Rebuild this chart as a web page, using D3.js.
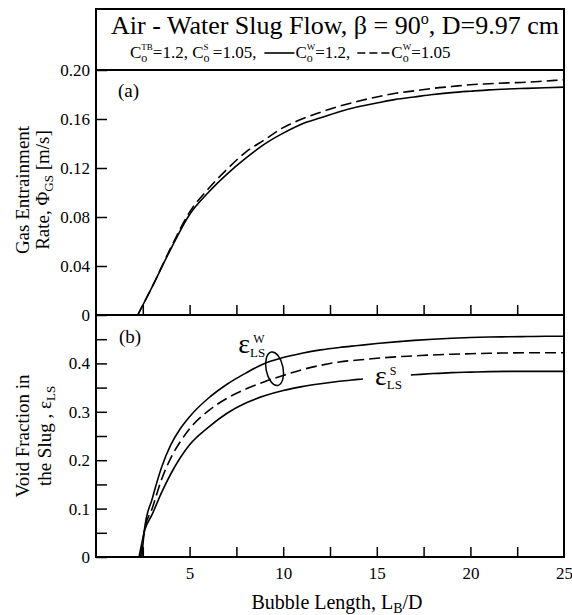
<!DOCTYPE html>
<html>
<head>
<meta charset="utf-8">
<script src="https://cdn.jsdelivr.net/npm/d3@7"></script>
<style>
  body { margin: 0; background: #fff; }
  svg { display: block; font-family: "Liberation Serif", "Times New Roman", serif; }
  .axis text { font-size: 17px; font-family: "Liberation Serif", "Times New Roman", serif; fill: #000; }
  .axis line { stroke: #000; stroke-width: 1.5px; }
</style>
</head>
<body>
<div id="chart"></div>
<script>
// (a) gas entrainment rate vs bubble length
const LB_A = [2.23, 3, 4, 5, 6, 7, 8, 9, 10, 11, 12, 13, 14, 15, 16, 17, 18, 19, 20, 21, 22, 23, 24, 25];
const phiW12  = [0, 0.023, 0.054, 0.082, 0.100, 0.115, 0.128, 0.1395, 0.1485, 0.156, 0.161, 0.166, 0.170, 0.173, 0.176, 0.178, 0.180, 0.1815, 0.1827, 0.1838, 0.1845, 0.185, 0.1855, 0.186];
const phiW105 = [0, 0.023, 0.055, 0.084, 0.103, 0.119, 0.133, 0.143, 0.153, 0.160, 0.1655, 0.1705, 0.1745, 0.178, 0.181, 0.183, 0.185, 0.1865, 0.188, 0.1888, 0.1895, 0.190, 0.191, 0.192];

// (b) void fraction in the slug vs bubble length
const LB_B = [2.6, 3, 3.5, 4, 4.5, 5, 6, 7, 8, 9, 10, 11, 12, 13, 14, 15, 16, 17, 18, 19, 20, 21, 22, 23, 24, 25];
const startB = [2.45, 2.38, 2.3]; // where each curve leaves zero: W 1.2, W 1.05, S
const epsW12  = [0.06, 0.12, 0.185, 0.232, 0.265, 0.290, 0.328, 0.357, 0.380, 0.400, 0.412, 0.421, 0.428, 0.433, 0.437, 0.441, 0.4445, 0.4475, 0.450, 0.452, 0.4535, 0.4545, 0.455, 0.4555, 0.456, 0.456];
const epsW105 = [0.058, 0.10, 0.16, 0.205, 0.238, 0.265, 0.302, 0.328, 0.347, 0.362, 0.375, 0.387, 0.396, 0.403, 0.407, 0.4105, 0.4135, 0.4155, 0.4175, 0.419, 0.420, 0.421, 0.4215, 0.422, 0.422, 0.422];
const epsS    = [0.055, 0.088, 0.133, 0.172, 0.205, 0.232, 0.268, 0.297, 0.318, 0.333, 0.344, 0.352, 0.358, 0.363, 0.367, 0.371, 0.374, 0.3765, 0.379, 0.381, 0.382, 0.383, 0.3835, 0.3836, 0.3836, 0.3836];

// ticks
const xMinor  = [2.5, 5, 7.5, 10, 12.5, 15, 17.5, 20, 22.5];
const xLabels = [5, 10, 15, 20, 25];
const phiTicks = [0, 0.04, 0.08, 0.12, 0.16, 0.20];
const epsMinor = [0.05, 0.15, 0.25, 0.35, 0.45];
const epsTicks = [0, 0.1, 0.2, 0.3, 0.4];

// annotation anchors (data coords)
const ellipseAt = [9.54, 0.389];
const labelW = [7.6, 0.422];
const labelS = [14.9, 0.355];

const width = 572, height = 615;
const svg = d3.select("#chart").append("svg")
  .attr("width", width).attr("height", height);

const x  = d3.scaleLinear().domain([0, 25]).range([96, 564]);
const yA = d3.scaleLinear().domain([0, 0.2]).range([315, 70]);
const yB = d3.scaleLinear().domain([0, 0.5]).range([557, 315]);

// ticks first, frame drawn over them
const fmtA = d => d === 0 ? "0" : d3.format(".2f")(d);
const fmtB = d => d === 0 ? "0" : d3.format(".1f")(d);

svg.append("g").attr("class", "axis")
  .attr("transform", `translate(0,${yA(0)})`)
  .call(d3.axisBottom(x).tickValues(xMinor).tickSize(-10).tickFormat(""))
  .select(".domain").remove();

svg.append("g").attr("class", "axis")
  .attr("transform", `translate(0,${yB(0)})`)
  .call(d3.axisBottom(x).tickValues(xMinor).tickSize(-10).tickFormat(""))
  .select(".domain").remove();

svg.append("g").attr("class", "axis")
  .attr("transform", `translate(0,${yB(0)})`)
  .call(d3.axisBottom(x).tickValues(xLabels).tickSize(0).tickPadding(10))
  .select(".domain").remove();

svg.append("g").attr("class", "axis")
  .attr("transform", `translate(${x(0)},0)`)
  .call(d3.axisLeft(yA).tickValues(phiTicks).tickSize(-11).tickPadding(6).tickFormat(fmtA))
  .select(".domain").remove();

svg.append("g").attr("class", "axis")
  .attr("transform", `translate(${x(0)},0)`)
  .call(d3.axisLeft(yB).tickValues(epsMinor).tickSize(-11).tickFormat(""))
  .select(".domain").remove();

svg.append("g").attr("class", "axis")
  .attr("transform", `translate(${x(0)},0)`)
  .call(d3.axisLeft(yB).tickValues(epsTicks).tickSize(-11).tickPadding(6).tickFormat(fmtB))
  .select(".domain").remove();

// frame: header box + two panels
const frame = svg.append("g").attr("fill", "none").attr("stroke", "#000").attr("stroke-width", 2);
frame.append("rect").attr("x", x(0)).attr("y", 9).attr("width", x(25) - x(0)).attr("height", yB(0) - 9);
frame.append("line").attr("x1", x(0)).attr("x2", x(25)).attr("y1", yA(0.2)).attr("y2", yA(0.2));
frame.append("line").attr("x1", x(0)).attr("x2", x(25)).attr("y1", yA(0)).attr("y2", yA(0));

// curves
const lineA = d3.line().x(d => x(d[0])).y(d => yA(d[1])).curve(d3.curveMonotoneX);
const lineB = d3.line().x(d => x(d[0])).y(d => yB(d[1])).curve(d3.curveMonotoneX);

const seriesA = [
  { vals: phiW12, dash: null },
  { vals: phiW105, dash: "11,5" }
];
seriesA.forEach(s => {
  svg.append("path")
    .datum(LB_A.map((l, i) => [l, s.vals[i]]))
    .attr("d", lineA)
    .attr("fill", "none").attr("stroke", "#000").attr("stroke-width", 1.6)
    .attr("stroke-dasharray", s.dash);
});

const seriesB = [
  { vals: epsW12, start: startB[0], dash: null },
  { vals: epsW105, start: startB[1], dash: "11,5" },
  { vals: epsS, start: startB[2], dash: null }
];
seriesB.forEach(s => {
  svg.append("path")
    .datum([[s.start, 0]].concat(LB_B.map((l, i) => [l, s.vals[i]])))
    .attr("d", lineB)
    .attr("fill", "none").attr("stroke", "#000").attr("stroke-width", 1.6)
    .attr("stroke-dasharray", s.dash);
});

// epsilon labels
function epsLabel(px, py, sup) {
  const t = svg.append("text").attr("x", px).attr("y", py).attr("font-size", 28);
  t.append("tspan").text("ε");
  t.append("tspan").attr("font-size", 13).attr("dy", 4).text("LS");
  t.append("tspan").attr("font-size", 12).attr("dx", -12).attr("dy", -14).text(sup);
  return t;
}

// white gap in the S curve behind its label
svg.append("rect")
  .attr("x", x(labelS[0]) - 12).attr("y", yB(labelS[1]) - 19)
  .attr("width", 48).attr("height", 26).attr("fill", "#fff");
epsLabel(x(labelS[0]), yB(labelS[1]), "S");
epsLabel(x(labelW[0]), yB(labelW[1]), "W");

svg.append("ellipse")
  .attr("transform", `translate(${x(ellipseAt[0])},${yB(ellipseAt[1])}) rotate(-11)`)
  .attr("rx", 8.5).attr("ry", 17)
  .attr("fill", "none").attr("stroke", "#000").attr("stroke-width", 1.5);

// panel tags
svg.append("text").attr("x", 118).attr("y", 97).attr("font-size", 19).text("(a)");
svg.append("text").attr("x", 119).attr("y", 343).attr("font-size", 19).text("(b)");

// title
const title = svg.append("text").attr("x", 335).attr("y", 34)
  .attr("text-anchor", "middle").attr("font-size", 26);
title.append("tspan").text("Air - Water Slug Flow, β = 90");
title.append("tspan").attr("font-size", 16).attr("dy", -10).text("o");
title.append("tspan").attr("dy", 10).text(",  D=9.97 cm");

// legend line of the header
function coef(t, sup, rest) {
  t.append("tspan").text("C");
  t.append("tspan").attr("font-size", 12).attr("dy", 4).text("o");
  t.append("tspan").attr("font-size", 9).attr("dx", -6).attr("dy", -12).text(sup);
  t.append("tspan").attr("dy", 8).text(rest);
}
const legY = 58;
const t1 = svg.append("text").attr("x", 130).attr("y", legY).attr("font-size", 17);
coef(t1, "TB", "=1.2, ");
coef(t1, "S", " =1.05,");
let bb = t1.node().getBBox();
let cx = bb.x + bb.width + 8;
svg.append("line").attr("x1", cx).attr("x2", cx + 30).attr("y1", legY - 5).attr("y2", legY - 5)
  .attr("stroke", "#000").attr("stroke-width", 1.6);
const t2 = svg.append("text").attr("x", cx + 31).attr("y", legY).attr("font-size", 17);
coef(t2, "W", "=1.2,");
bb = t2.node().getBBox();
cx = bb.x + bb.width + 7;
svg.append("line").attr("x1", cx).attr("x2", cx + 33).attr("y1", legY - 5).attr("y2", legY - 5)
  .attr("stroke", "#000").attr("stroke-width", 1.6).attr("stroke-dasharray", "8,4");
const t3 = svg.append("text").attr("x", cx + 34).attr("y", legY).attr("font-size", 17);
coef(t3, "W", "=1.05");

// axis titles
const ylabA = 190, ylabB = 436;
svg.append("text").attr("transform", `translate(29,${ylabA}) rotate(-90)`)
  .attr("text-anchor", "middle").attr("font-size", 19).text("Gas Entrainment");
const ra = svg.append("text").attr("transform", `translate(49,${ylabA}) rotate(-90)`)
  .attr("text-anchor", "middle").attr("font-size", 19);
ra.append("tspan").text("Rate, Φ");
ra.append("tspan").attr("font-size", 13).attr("dy", 4).text("GS");
ra.append("tspan").attr("dy", -4).text(" [m/s]");

svg.append("text").attr("transform", `translate(29,${ylabB}) rotate(-90)`)
  .attr("text-anchor", "middle").attr("font-size", 19).text("Void Fraction in");
const rb = svg.append("text").attr("transform", `translate(51,${ylabB}) rotate(-90)`)
  .attr("text-anchor", "middle").attr("font-size", 19);
rb.append("tspan").text("the Slug  , ε");
rb.append("tspan").attr("font-size", 13).attr("dy", 4).text("LS");

const xl = svg.append("text").attr("x", 337).attr("y", 609)
  .attr("text-anchor", "middle").attr("font-size", 20);
xl.append("tspan").text("Bubble Length, L");
xl.append("tspan").attr("font-size", 14).attr("dy", 4).text("B");
xl.append("tspan").attr("dy", -4).text("/D");
</script>
</body>
</html>
